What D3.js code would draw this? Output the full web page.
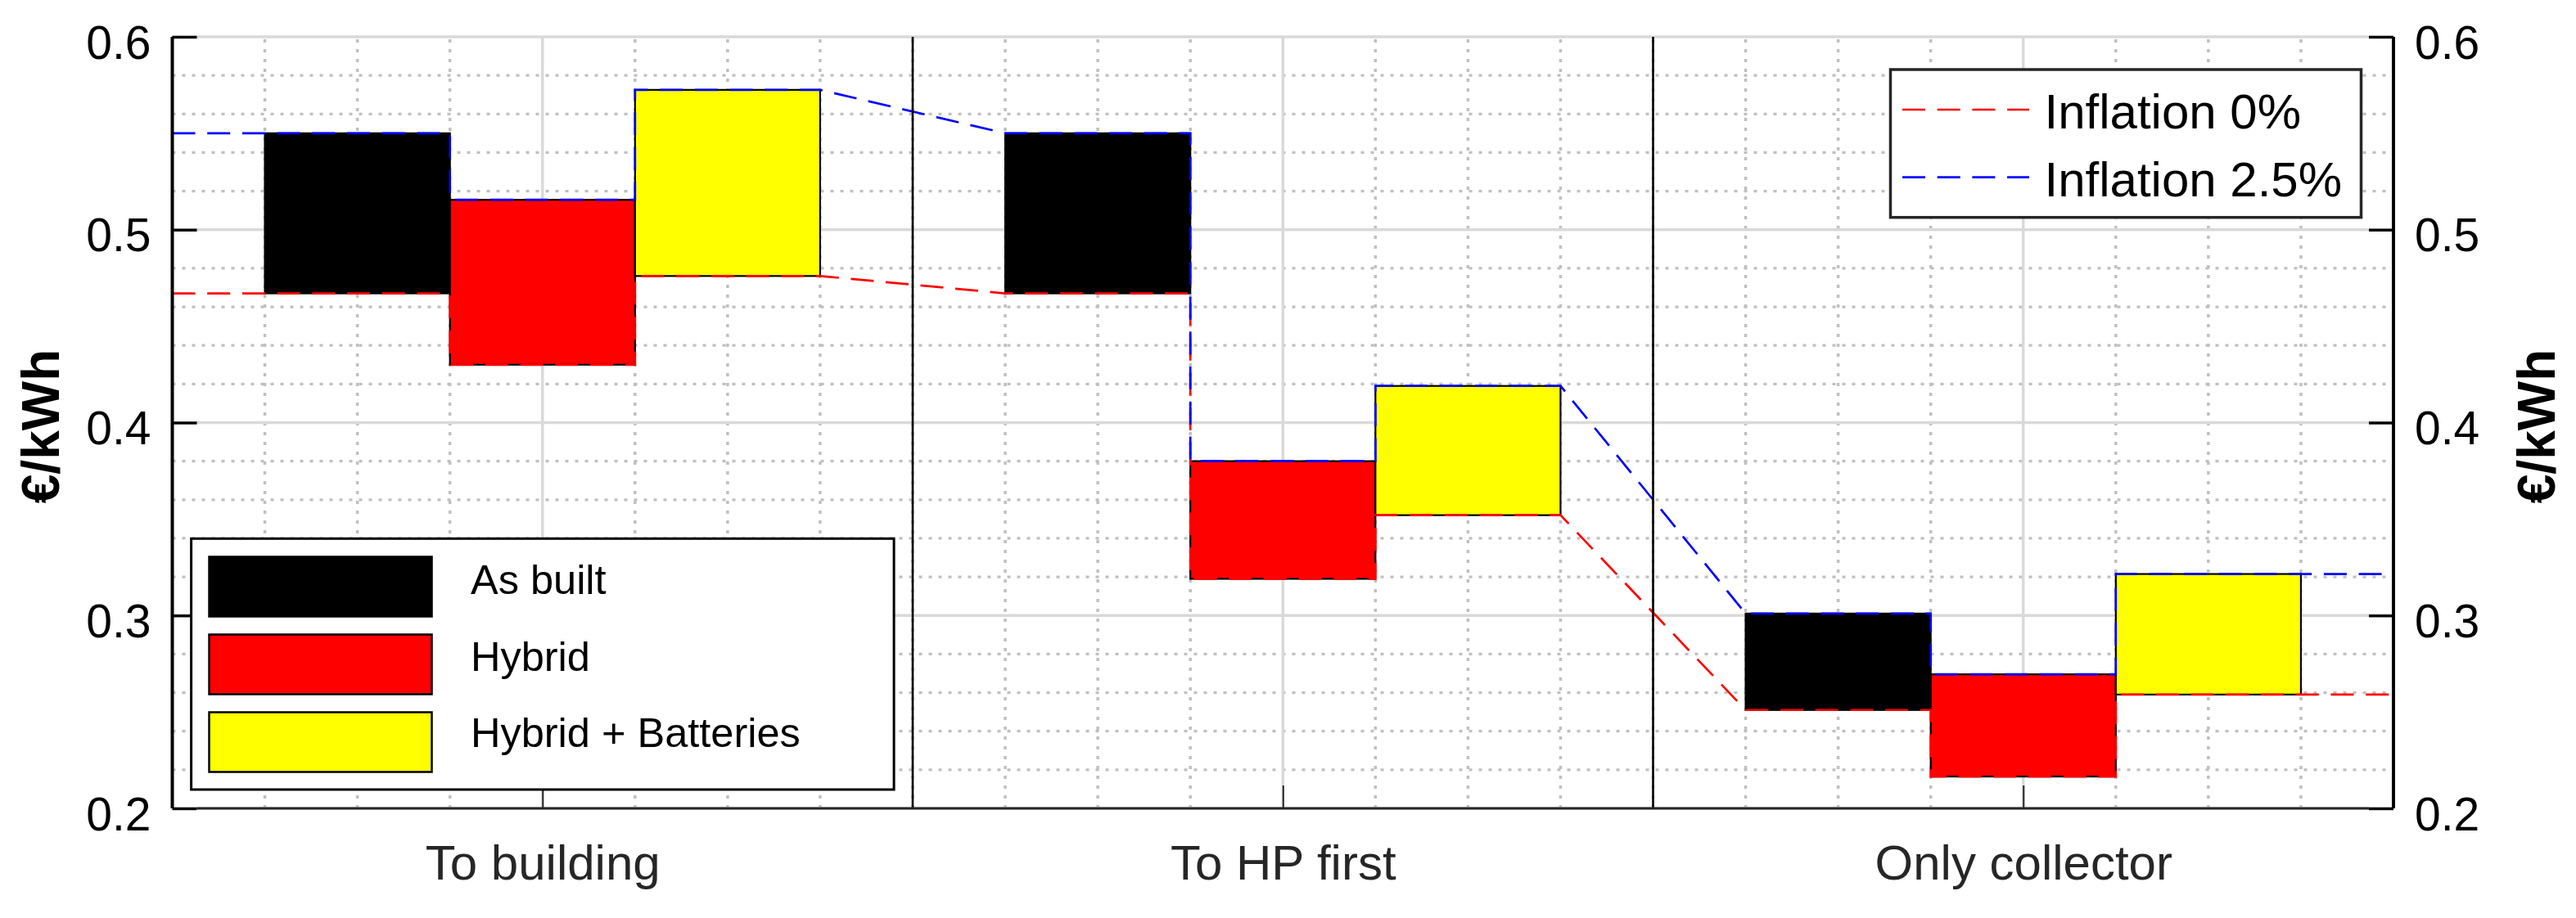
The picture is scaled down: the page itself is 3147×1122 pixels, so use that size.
<!DOCTYPE html>
<html>
<head>
<meta charset="utf-8">
<script src="https://cdn.jsdelivr.net/npm/d3@7"></script>
<style>
  body { margin: 0; background: #fff; }
  text { font-family: "Liberation Sans", Arial, Helvetica, sans-serif; }
</style>
</head>
<body>
<div id="chart"></div>
<script>
// scenarios on the x axis and the three plant configurations per scenario
const categories = ["To building", "To HP first", "Only collector"];
const configs = ["As built", "Hybrid", "Hybrid + Batteries"];
const configColors = ["#000000", "#ff0000", "#ffff00"];

// cost in €/kWh, [scenario][config]
const inflation0 = [
    [0.467, 0.430, 0.476],
    [0.467, 0.319, 0.352],
    [0.251, 0.2165, 0.259]
];
const inflation25 = [
    [0.550, 0.5155, 0.5725],
    [0.550, 0.380, 0.419],
    [0.301, 0.2695, 0.3215]
];

const seriesNames = ["Inflation 0%", "Inflation 2.5%"];
const seriesColors = ["#ff0000", "#0000ff"];

const yTicks = [0.2, 0.3, 0.4, 0.5, 0.6];

const width = 3147;
const height = 1122;
const margin = { left: 210.5, right: 223, top: 45, bottom: 134 };

const svg = d3.select("#chart")
    .append("svg")
    .attr("width", width)
    .attr("height", height);

const x = d3.scaleLinear()
    .domain([0.5, 3.5])
    .range([margin.left, width - margin.right]);

const y = d3.scaleLinear()
    .domain([0.2, 0.6])
    .range([height - margin.bottom, margin.top]);

const barWidth = 0.25;
const barCenter = (g, i) => g + 1 + (i - 1) * barWidth;

// grid
const minorY = d3.range(0.2, 0.6001, 0.02).filter(v => Math.abs(v * 10 - Math.round(v * 10)) > 1e-6);
const minorX = d3.range(0.625, 3.5, 0.125).filter(v => Math.abs(v - Math.round(v)) > 1e-6);

const grid = svg.append("g");
grid.selectAll(".minor-y")
    .data(minorY)
    .enter()
    .append("line")
    .attr("x1", x(0.5)).attr("x2", x(3.5))
    .attr("y1", d => y(d)).attr("y2", d => y(d))
    .attr("stroke", "#c0c0c0")
    .attr("stroke-width", 3.3)
    .attr("stroke-dasharray", "4,8");

grid.selectAll(".minor-x")
    .data(minorX)
    .enter()
    .append("line")
    .attr("x1", d => x(d)).attr("x2", d => x(d))
    .attr("y1", y(0.2)).attr("y2", y(0.6))
    .attr("stroke", "#c0c0c0")
    .attr("stroke-width", 3.5)
    .attr("stroke-dasharray", "4,8");

grid.selectAll(".major-y")
    .data(yTicks)
    .enter()
    .append("line")
    .attr("x1", x(0.5)).attr("x2", x(3.5))
    .attr("y1", d => y(d)).attr("y2", d => y(d))
    .attr("stroke", "#d9d9d9")
    .attr("stroke-width", 3.4);

grid.selectAll(".major-x")
    .data(categories)
    .enter()
    .append("line")
    .attr("x1", (d, i) => x(i + 1)).attr("x2", (d, i) => x(i + 1))
    .attr("y1", y(0.2)).attr("y2", y(0.6))
    .attr("stroke", "#d9d9d9")
    .attr("stroke-width", 3.4);

// floating bars from inflation 0% up to inflation 2.5%
const bars = [];
categories.forEach((c, g) => {
    configs.forEach((k, i) => {
        bars.push({ g: g, i: i, lo: inflation0[g][i], hi: inflation25[g][i] });
    });
});

svg.append("g")
    .selectAll("rect")
    .data(bars)
    .enter()
    .append("rect")
    .attr("x", d => x(barCenter(d.g, d.i) - barWidth / 2))
    .attr("width", d => x(barCenter(d.g, d.i) + barWidth / 2) - x(barCenter(d.g, d.i) - barWidth / 2))
    .attr("y", d => y(d.hi))
    .attr("height", d => y(d.lo) - y(d.hi))
    .attr("fill", d => configColors[d.i])
    .attr("stroke", "#000")
    .attr("stroke-width", 2.2);

// step lines linking the bars
function stepPoints(values) {
    const pts = [];
    values.forEach((row, g) => {
        row.forEach((v, i) => {
            let x0 = barCenter(g, i) - barWidth / 2;
            let x1 = barCenter(g, i) + barWidth / 2;
            if (g === 0 && i === 0) x0 = x.domain()[0];
            if (g === values.length - 1 && i === row.length - 1) x1 = x.domain()[1];
            pts.push([x0, v], [x1, v]);
        });
    });
    return pts;
}

const line = d3.line()
    .x(d => x(d[0]))
    .y(d => y(d[1]));

[inflation0, inflation25].forEach((vals, s) => {
    svg.append("path")
        .attr("d", line(stepPoints(vals)))
        .attr("fill", "none")
        .attr("stroke", seriesColors[s])
        .attr("stroke-width", 2.7)
        .attr("stroke-dasharray", "28,14.7");
});

// separators between scenarios
svg.append("g")
    .selectAll("line")
    .data([1.5, 2.5])
    .enter()
    .append("line")
    .attr("x1", d => x(d)).attr("x2", d => x(d))
    .attr("y1", y(0.2)).attr("y2", y(0.6))
    .attr("stroke", "#000")
    .attr("stroke-width", 2.6);

// axes
const leftAxis = svg.append("g").attr("transform", `translate(${x(0.5)},0)`)
    .call(d3.axisLeft(y).tickValues(yTicks).tickSize(-30).tickPadding(56).tickFormat(d3.format(".1f")));
const rightAxis = svg.append("g").attr("transform", `translate(${x(3.5)},0)`)
    .call(d3.axisRight(y).tickValues(yTicks).tickSize(-30).tickPadding(56).tickFormat(d3.format(".1f")));
[leftAxis, rightAxis].forEach(ax => {
    ax.select(".domain").attr("stroke", "#000").attr("stroke-width", 4);
    ax.selectAll(".tick line").attr("stroke", "#000").attr("stroke-width", 3.4);
    ax.selectAll(".tick text")
        .attr("fill", "#000")
        .attr("font-size", 57)
        .attr("dy", "0.46em");
});
leftAxis.selectAll(".tick text").attr("x", -26);
rightAxis.selectAll(".tick text").attr("x", 26);
leftAxis.select(".domain").attr("d", `M0,${y(0.2)}V${y(0.6)}`);
rightAxis.select(".domain").attr("d", `M0,${y(0.2)}V${y(0.6)}`);

const bottomAxis = svg.append("g").attr("transform", `translate(0,${y(0.2)})`)
    .call(d3.axisBottom(x).tickValues([1, 2, 3]).tickSize(-28).tickFormat(d => categories[d - 1]));
bottomAxis.select(".domain")
    .attr("d", `M${x(0.5) + 30},0H${x(3.5) - 30}`)
    .attr("stroke", "#262626")
    .attr("stroke-width", 3);
bottomAxis.selectAll(".tick line").attr("stroke", "#262626").attr("stroke-width", 2);
bottomAxis.selectAll(".tick text")
    .attr("fill", "#262626")
    .attr("font-size", 60)
    .attr("y", 87)
    .attr("dy", 0);

// y labels
[[71.7, 521], [3121, 521]].forEach(p => {
    svg.append("text")
        .attr("transform", `translate(${p[0]},${p[1]}) rotate(-90)`)
        .attr("text-anchor", "middle")
        .attr("font-size", 64)
        .attr("font-weight", "bold")
        .attr("fill", "#000")
        .text("€/kWh");
});

// legend for configurations
const leg1 = svg.append("g");
leg1.append("rect")
    .attr("x", 233.6).attr("y", 658.3)
    .attr("width", 858.5).attr("height", 306.7)
    .attr("fill", "#fff")
    .attr("stroke", "#000")
    .attr("stroke-width", 3);

leg1.selectAll(".sw")
    .data(configs)
    .enter()
    .append("rect")
    .attr("x", 255.5)
    .attr("y", (d, i) => 680.5 + i * 95)
    .attr("width", 272)
    .attr("height", 73)
    .attr("fill", (d, i) => configColors[i])
    .attr("stroke", "#000")
    .attr("stroke-width", 2.5);

leg1.selectAll(".lbl")
    .data(configs)
    .enter()
    .append("text")
    .attr("x", 575)
    .attr("y", (d, i) => 726 + i * 93.7)
    .attr("font-size", 50.5)
    .attr("fill", "#000")
    .text(d => d);

// legend for inflation lines
const leg2 = svg.append("g");
leg2.append("rect")
    .attr("x", 2309.5).attr("y", 85)
    .attr("width", 575).attr("height", 180.7)
    .attr("fill", "#fff")
    .attr("stroke", "#262626")
    .attr("stroke-width", 3.5);

leg2.selectAll(".ln")
    .data(seriesNames)
    .enter()
    .append("line")
    .attr("x1", 2324).attr("x2", 2479)
    .attr("y1", (d, i) => 134 + i * 82.7)
    .attr("y2", (d, i) => 134 + i * 82.7)
    .attr("stroke", (d, i) => seriesColors[i])
    .attr("stroke-width", 2.7)
    .attr("stroke-dasharray", "28,14.7");

leg2.selectAll(".lbl")
    .data(seriesNames)
    .enter()
    .append("text")
    .attr("x", 2497.5)
    .attr("y", (d, i) => 156.7 + i * 83.3)
    .attr("font-size", 60)
    .attr("fill", "#000")
    .text(d => d);
</script>
</body>
</html>
